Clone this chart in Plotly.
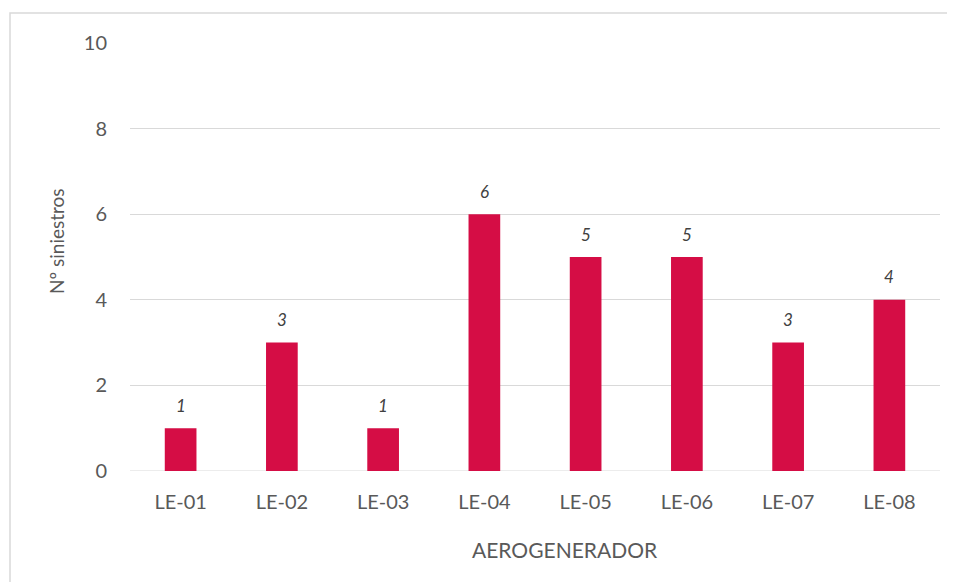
import plotly.graph_objects as go

categories = ["LE-01", "LE-02", "LE-03", "LE-04", "LE-05", "LE-06", "LE-07", "LE-08"]
siniestros = [1, 3, 1, 6, 5, 5, 3, 4]
y_ticks = [0, 2, 4, 6, 8, 10]

# The page body adds an 8px offset, so the figure is drawn 8px smaller
OFF = 8
W, H = 955 - OFF, 582 - OFF
L, R, T, B = 130 - OFF, 15, 43 - OFF, 111
pw, ph = W - L - R, H - T - B

def px_to_paper_x(px):
    return (px - OFF - L) / pw

def px_to_paper_y(py):
    return (H - B - (py - OFF)) / ph

font_family = "Lato, 'Open Sans', sans-serif"
grey = "#595959"

fig = go.Figure()
fig.add_trace(go.Bar(
    x=categories, y=siniestros,
    marker=dict(color="#D50D45", line=dict(width=0)),
    hoverinfo="x+y",
))

annotations = []
for c, v in zip(categories, siniestros):
    annotations.append(dict(
        x=c, y=v, xref="x", yref="y", text=f"<i>{v}</i>", showarrow=False,
        yshift=23, font=dict(family=font_family, size=17, color="#404040"),
    ))
annotations.append(dict(
    x=px_to_paper_x(565), y=px_to_paper_y(549), xref="paper", yref="paper",
    text="AEROGENERADOR", showarrow=False,
    font=dict(family=font_family, size=21, color=grey),
    xanchor="center", yanchor="middle",
))
annotations.append(dict(
    x=px_to_paper_x(56), y=px_to_paper_y(241), xref="paper", yref="paper",
    text="Nº siniestros", showarrow=False, textangle=-90,
    font=dict(family=font_family, size=19, color=grey),
    xanchor="center", yanchor="middle",
))

fig.update_layout(
    width=W, height=H,
    margin=dict(l=L, r=R, t=T, b=B, autoexpand=False),
    paper_bgcolor="white", plot_bgcolor="white",
    bargap=0.687,
    showlegend=False,
    annotations=annotations,
    shapes=[dict(
        type="rect", xref="paper", yref="paper",
        x0=px_to_paper_x(10), x1=px_to_paper_x(1000),
        y0=px_to_paper_y(640), y1=px_to_paper_y(13),
        line=dict(color="#D9D9D9", width=1.5), fillcolor="rgba(0,0,0,0)",
        layer="below",
    )],
    xaxis=dict(
        showgrid=False, showline=False, zeroline=False, ticks="",
        tickfont=dict(family=font_family, size=20, color=grey),
        ticklabelstandoff=17,
    ),
    yaxis=dict(
        range=[0, 10], tickvals=y_ticks, showgrid=True, gridcolor="#D9D9D9",
        gridwidth=1, zeroline=False, showline=False, ticks="",
        tickfont=dict(family=font_family, size=20, color=grey),
        ticklabelstandoff=22,
    ),
)
fig.add_hline(y=0, line=dict(color="#D9D9D9", width=1), layer="below")

fig.write_html("out.html")
